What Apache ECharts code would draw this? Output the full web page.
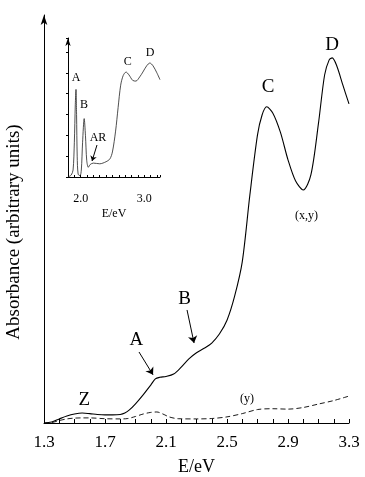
<!DOCTYPE html>
<html>
<head>
<meta charset="utf-8">
<script src="https://cdn.jsdelivr.net/npm/echarts@6/dist/echarts.min.js"></script>
<style>
  html, body { margin: 0; padding: 0; background: #fff; }
  #chart { width: 365px; height: 477px; }
</style>
</head>
<body>
<div id="chart"></div>
<script>
// === Données ===
// courbe principale (x,y)
const mainE = [1.30, 1.35, 1.40, 1.45, 1.50, 1.55, 1.60, 1.65, 1.70, 1.75, 1.80, 1.83, 1.86, 1.90, 1.95,
    2.00, 2.03, 2.06, 2.10, 2.15, 2.20, 2.25, 2.30, 2.35, 2.40, 2.45, 2.50, 2.55, 2.60, 2.65,
    2.70, 2.73, 2.76, 2.80, 2.85, 2.90, 2.95, 3.00, 3.05, 3.10, 3.14, 3.17, 3.19, 3.22, 3.26, 3.30];
const mainAbs = [0, 0.25, 1.0, 1.7, 2.2, 2.45, 2.3, 2.1, 2.0, 2.0, 2.1, 2.45, 3.2, 4.7, 6.9,
    9.3, 10.8, 11.2, 11.4, 12.0, 13.7, 15.7, 17.2, 18.3, 19.6, 21.8, 25.2, 31.1, 39.5, 55.9,
    70.6, 75.5, 77.5, 76.0, 71.3, 64.5, 59.3, 57.1, 60.8, 73.5, 85.3, 89.0, 89.5, 87.5, 82.8, 78.2];

// courbe (y) en pointillés
const yE = [1.30, 1.35, 1.40, 1.45, 1.50, 1.55, 1.60, 1.70, 1.80, 1.85, 1.90, 1.95, 2.00, 2.04,
    2.08, 2.12, 2.18, 2.30, 2.40, 2.50, 2.60, 2.70, 2.80, 2.90, 3.00, 3.10, 3.20, 3.30];
const yAbs = [0, 0.1, 0.6, 1.0, 1.2, 1.25, 1.25, 1.05, 1.0, 1.1, 1.6, 2.2, 2.6, 2.7,
    2.2, 1.5, 1.05, 1.0, 1.1, 1.5, 2.3, 3.3, 3.5, 3.4, 3.8, 4.65, 5.5, 6.6];

// encart
const insetE = [1.80, 1.85, 1.88, 1.90, 1.915, 1.926, 1.935, 1.945, 1.96, 1.99, 2.01, 2.03, 2.055,
    2.075, 2.095, 2.12, 2.15, 2.20, 2.30, 2.40, 2.46, 2.50, 2.55, 2.59, 2.63, 2.67, 2.715,
    2.76, 2.82, 2.87, 2.93, 2.98, 3.04, 3.09, 3.14, 3.20, 3.25];
const insetAbs = [0, 1.4, 5, 25, 52, 63, 45, 15, 2, 1, 5, 25, 42,
    30, 12, 7, 9, 10, 9.5, 11, 13, 18, 33, 50, 66, 73, 75.5,
    73.5, 69.5, 69, 72, 75.5, 80, 82, 80, 75, 70];

// étiquettes des axes
const mainTickLabels = ["1.3", "1.7", "2.1", "2.5", "2.9", "3.3"];
const insetTickLabels = ["2.0", "3.0"];

// annotations : [texte, E, valeur]
const mainNotes = [["Z", 1.565, 5.6], ["A", 1.905, 20.4], ["B", 2.222, 30.4], ["C", 2.769, 82.4], ["D", 3.189, 92.6]];
const mainSmallNotes = [["(x,y)", 3.022, 50.7], ["(y)", 2.631, 6.0]];
const mainArrows = [[1.923, 17.4, 2.015, 11.8], [2.238, 27.7, 2.284, 19.6]];
const insetNotes = [["A", 1.926, 71.2], ["B", 2.052, 51.8], ["AR", 2.273, 28], ["C", 2.74, 83.0], ["D", 3.093, 89]];
const insetArrows = [[2.257, 23, 2.179, 11.5]];

const FONT = "'Liberation Serif', 'Times New Roman', serif";
const zip = (xs, ys) => xs.map((x, i) => [x, ys[i]]);
const showLabel = (list) => (v) => {
    const s = v.toFixed(1);
    return list.includes(s) ? s : "";
};

function notePoints(list, size, weight) {
    return list.map(n => ({
        coord: [n[1], n[2]],
        symbol: "circle",
        symbolSize: 1,
        itemStyle: { color: "transparent" },
        label: {
            show: true, position: "inside", formatter: n[0],
            color: "#000", fontFamily: FONT, fontSize: size, fontWeight: weight || "normal"
        }
    }));
}
function arrowLines(list) {
    return list.map(a => [{ coord: [a[0], a[1]] }, { coord: [a[2], a[3]] }]);
}

const chart = echarts.init(document.getElementById("chart"));

const option = {
    animation: false,
    backgroundColor: "#fff",
    grid: [
        { left: 44, right: 16, top: 15, bottom: 54, outerBoundsMode: "none" },
        { left: 68, width: 92, top: 38, height: 139, outerBoundsMode: "none" }
    ],
    xAxis: [
        {
            gridIndex: 0, type: "value", min: 1.3, max: 3.3, interval: 0.1,
            name: "E/eV", nameLocation: "middle", nameGap: 35,
            nameTextStyle: { color: "#000", fontFamily: FONT, fontSize: 18 },
            axisLine: { lineStyle: { color: "#000", width: 1 } },
            axisTick: { inside: true, length: 4, lineStyle: { color: "#000" } },
            axisLabel: { color: "#000", fontFamily: FONT, fontSize: 17, margin: 11, formatter: showLabel(mainTickLabels) },
            splitLine: { show: false }
        },
        {
            gridIndex: 1, type: "value", min: 1.8, max: 3.25, interval: 0.1,
            name: "E/eV", nameLocation: "middle", nameGap: 31,
            nameTextStyle: { color: "#000", fontFamily: FONT, fontSize: 12 },
            axisLine: { lineStyle: { color: "#000", width: 1 } },
            axisTick: { inside: true, length: 2, lineStyle: { color: "#000" } },
            axisLabel: { color: "#000", fontFamily: FONT, fontSize: 12, margin: 16, formatter: showLabel(insetTickLabels) },
            splitLine: { show: false }
        }
    ],
    yAxis: [
        {
            gridIndex: 0, type: "value", min: 0, max: 100,
            name: "Absorbance (arbitrary units)", nameLocation: "middle", nameGap: 20,
            nameTextStyle: { color: "#000", fontFamily: FONT, fontSize: 19, padding: [0, 26, 0, 0] },
            axisLine: { show: true, symbol: ["none", "arrow"], symbolSize: [5, 10], lineStyle: { color: "#000", width: 1 } },
            axisTick: { show: false },
            axisLabel: { show: false },
            splitLine: { show: false }
        },
        {
            gridIndex: 1, type: "value", min: 0, max: 100, interval: 15,
            axisLine: { show: true, symbol: ["none", "arrow"], symbolSize: [4, 8], lineStyle: { color: "#000", width: 1 } },
            axisTick: { show: true, length: 2, lineStyle: { color: "#000" } },
            axisLabel: { show: false },
            splitLine: { show: false }
        }
    ],
    series: [
        {
            name: "(x,y)", type: "line", xAxisIndex: 0, yAxisIndex: 0,
            smooth: 0.3, symbol: "none",
            lineStyle: { color: "#000", width: 1.1 },
            data: zip(mainE, mainAbs),
            markPoint: {
                silent: true,
                data: notePoints(mainNotes, 19).concat(notePoints(mainSmallNotes, 12))
            },
            markLine: {
                silent: true, symbol: ["none", "arrow"], symbolSize: 7,
                label: { show: false },
                lineStyle: { color: "#000", width: 1, type: "solid" },
                data: arrowLines(mainArrows)
            }
        },
        {
            name: "(y)", type: "line", xAxisIndex: 0, yAxisIndex: 0,
            smooth: 0.3, symbol: "none",
            lineStyle: { color: "#000", width: 0.9, type: [5, 3] },
            data: zip(yE, yAbs)
        },
        {
            name: "encart", type: "line", xAxisIndex: 1, yAxisIndex: 1,
            smooth: 0.3, symbol: "none",
            lineStyle: { color: "#222", width: 0.8 },
            data: zip(insetE, insetAbs),
            markPoint: {
                silent: true,
                data: notePoints(insetNotes, 12)
            },
            markLine: {
                silent: true, symbol: ["none", "arrow"], symbolSize: 5,
                label: { show: false },
                lineStyle: { color: "#000", width: 1, type: "solid" },
                data: arrowLines(insetArrows)
            }
        }
    ]
};

chart.setOption(option);
window.addEventListener("resize", () => chart.resize());
</script>
</body>
</html>
